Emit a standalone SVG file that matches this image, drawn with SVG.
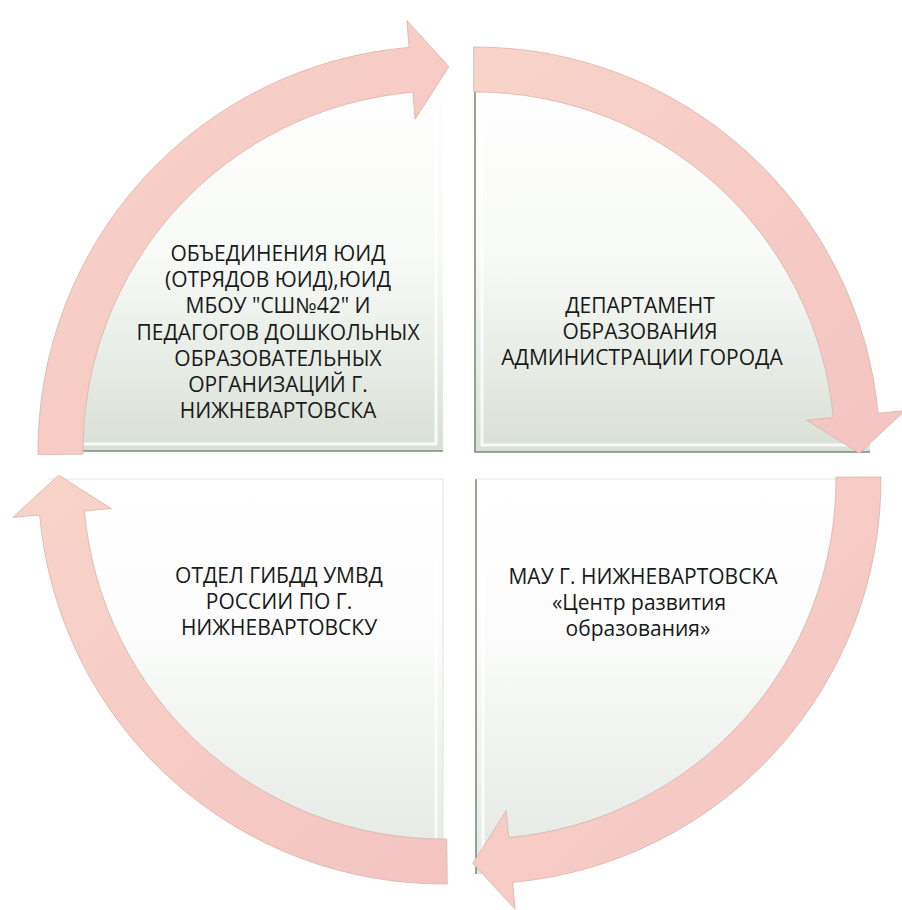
<svg xmlns="http://www.w3.org/2000/svg" width="902" height="910" viewBox="0 0 902 910">
<defs>
<linearGradient id="gTop" x1="0" y1="0" x2="0" y2="1">
<stop offset="0" stop-color="#ffffff"/>
<stop offset="0.5" stop-color="#f8faf7"/>
<stop offset="1" stop-color="#d9e0d7"/>
</linearGradient>
<linearGradient id="gBot" x1="0" y1="0" x2="0" y2="1">
<stop offset="0" stop-color="#ffffff"/>
<stop offset="0.4" stop-color="#fbfcfb"/>
<stop offset="1" stop-color="#e3e8e2"/>
</linearGradient>
<linearGradient id="gArrow" x1="0" y1="0" x2="1" y2="1">
<stop offset="0" stop-color="#f8d4c8"/>
<stop offset="1" stop-color="#f4c4c2"/>
</linearGradient>
</defs>
<style>
.quad-top{fill:url(#gTop);}
.quad-bot{fill:url(#gBot);}
.edge{stroke:#7d8b7d;stroke-width:1.6;fill:none;}
.bevel{stroke:#ffffff;stroke-width:3;fill:none;opacity:0.8;}
.lbl{font-family:"Open Sans","Liberation Sans",sans-serif;font-size:21px;fill:#1a1a1a;text-anchor:middle;}
.arrow{fill:url(#gArrow);stroke:#d9b2aa;stroke-width:0.8;}
</style>
<rect width="902" height="910" fill="#ffffff"/>

<g id="node-yuid">
<path class="quad-top" d="M 443 451 L 48 451 A 395 395 0 0 1 443 56 Z"/>
<path class="bevel" d="M 60 444 L 436 444 L 436 68"/>
<path class="edge" d="M 48 451 L 443 451"/>
<text class="lbl" x="278" y="261">ОБЪЕДИНЕНИЯ ЮИД</text>
<text class="lbl" x="278" y="287">(ОТРЯДОВ ЮИД),ЮИД</text>
<text class="lbl" x="278" y="313">МБОУ "СШ№42" И</text>
<text class="lbl" x="278" y="340">ПЕДАГОГОВ ДОШКОЛЬНЫХ</text>
<text class="lbl" x="278" y="366">ОБРАЗОВАТЕЛЬНЫХ</text>
<text class="lbl" x="278" y="392">ОРГАНИЗАЦИЙ Г.</text>
<text class="lbl" x="278" y="418">НИЖНЕВАРТОВСКА</text>
</g>

<g id="node-department">
<path class="quad-top" d="M 475 452 L 475 57 A 395 395 0 0 1 870 452 Z"/>
<path class="bevel" d="M 482 70 L 482 445 L 858 445"/>
<path class="edge" d="M 475 57 L 475 452 L 870 452"/>
<text class="lbl" x="640" y="313">ДЕПАРТАМЕНТ</text>
<text class="lbl" x="640" y="339">ОБРАЗОВАНИЯ</text>
<text class="lbl" x="642" y="365">АДМИНИСТРАЦИИ ГОРОДА</text>
</g>

<g id="node-mau">
<path class="quad-bot" d="M 476 479 L 871 479 A 395 395 0 0 1 476 874 Z"/>
<path class="bevel" d="M 483 862 L 483 486 L 858 486"/>
<path class="edge" d="M 476 479 L 476 874"/>
<path d="M 476 479 L 871 479" stroke="#e3e7e3" stroke-width="1.2" fill="none"/>
<text class="lbl" x="643" y="584">МАУ Г. НИЖНЕВАРТОВСКА</text>
<text class="lbl" x="639" y="610">«Центр развития</text>
<text class="lbl" x="638" y="636">образования»</text>
</g>

<g id="node-gibdd">
<path class="quad-bot" d="M 443 479 L 443 874 A 395 395 0 0 1 48 479 Z"/>
<path class="bevel" d="M 60 486 L 436 486 L 436 862"/>
<path d="M 48 479 L 443 479 L 443 874" stroke="#e3e7e3" stroke-width="1.2" fill="none"/>
<text class="lbl" x="279" y="583">ОТДЕЛ ГИБДД УМВД</text>
<text class="lbl" x="279" y="609">РОССИИ ПО Г.</text>
<text class="lbl" x="279" y="635">НИЖНЕВАРТОВСКУ</text>
</g>

<g id="connectors">
<path class="arrow" d="M 38.02 454.53 A 405 405 0 0 1 409.11 47.42 L 406.85 20.52 L 448.86 66.66 L 415.13 119.17 L 412.88 92.26 A 360 360 0 0 0 83.01 454.14 Z"/>
<path class="arrow" d="M 473.59 47 A 405 405 0 0 1 878.14 413.18 L 905.01 410.59 L 859.38 453.17 L 806.47 420.08 L 833.34 417.49 A 360 360 0 0 0 473.74 92 Z"/>
<path class="arrow" d="M 881 476.88 A 405 405 0 0 1 512.71 882.33 L 515.15 909.22 L 472.83 863.36 L 506.18 810.63 L 508.63 837.52 A 360 360 0 0 0 836 477.12 Z"/>
<path class="arrow" d="M 447.24 883.98 A 405 405 0 0 1 39.6 515 L 12.71 517.4 L 58.63 475.15 L 111.32 508.6 L 84.43 511 A 360 360 0 0 0 446.77 838.98 Z"/>
</g>
</svg>
